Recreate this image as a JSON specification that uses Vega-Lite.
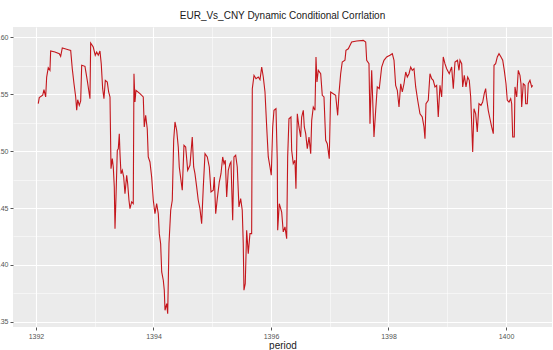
{
  "$schema": "https://vega.github.io/schema/vega-lite/v6.json",
  "width": 539,
  "height": 300,
  "autosize": {"type": "none"},
  "padding": {"left": 13, "top": 27, "right": 1, "bottom": 23},
  "background": "white",
  "title": {
    "text": "EUR_Vs_CNY Dynamic Conditional Corrlation",
    "fontSize": 10,
    "font": "Liberation Sans",
    "fontWeight": "normal",
    "color": "#1a1a1a",
    "anchor": "middle",
    "offset": 6
  },
  "config": {
    "view": {"fill": "#EBEBEB", "stroke": null},
    "axis": {"domain": false, "labelFont": "Liberation Sans", "titleFont": "Liberation Sans"}
  },
  "data": {"values": [
    {"period": 1392.039, "dcc": 0.5415}, {"period": 1392.056, "dcc": 0.5468}, {"period": 1392.114, "dcc": 0.5489},
    {"period": 1392.136, "dcc": 0.5538}, {"period": 1392.165, "dcc": 0.5474}, {"period": 1392.182, "dcc": 0.5649},
    {"period": 1392.209, "dcc": 0.5731}, {"period": 1392.238, "dcc": 0.5708}, {"period": 1392.25, "dcc": 0.5877},
    {"period": 1392.323, "dcc": 0.5868}, {"period": 1392.397, "dcc": 0.5854}, {"period": 1392.42, "dcc": 0.5831},
    {"period": 1392.448, "dcc": 0.5904}, {"period": 1392.494, "dcc": 0.5897}, {"period": 1392.55, "dcc": 0.5889},
    {"period": 1392.591, "dcc": 0.5883}, {"period": 1392.618, "dcc": 0.5722}, {"period": 1392.647, "dcc": 0.559},
    {"period": 1392.676, "dcc": 0.5474}, {"period": 1392.693, "dcc": 0.5357}, {"period": 1392.71, "dcc": 0.545},
    {"period": 1392.737, "dcc": 0.5401}, {"period": 1392.761, "dcc": 0.5439}, {"period": 1392.778, "dcc": 0.5752},
    {"period": 1392.834, "dcc": 0.5743}, {"period": 1392.873, "dcc": 0.562}, {"period": 1392.902, "dcc": 0.5518},
    {"period": 1392.919, "dcc": 0.5459}, {"period": 1392.931, "dcc": 0.5947}, {"period": 1392.975, "dcc": 0.5912},
    {"period": 1393.009, "dcc": 0.584}, {"period": 1393.033, "dcc": 0.5868}, {"period": 1393.06, "dcc": 0.584},
    {"period": 1393.089, "dcc": 0.5877}, {"period": 1393.111, "dcc": 0.5766}, {"period": 1393.135, "dcc": 0.5547},
    {"period": 1393.157, "dcc": 0.5459}, {"period": 1393.18, "dcc": 0.562}, {"period": 1393.214, "dcc": 0.5605},
    {"period": 1393.237, "dcc": 0.5518}, {"period": 1393.26, "dcc": 0.5474}, {"period": 1393.277, "dcc": 0.4845},
    {"period": 1393.299, "dcc": 0.4933}, {"period": 1393.316, "dcc": 0.486}, {"period": 1393.333, "dcc": 0.4685},
    {"period": 1393.345, "dcc": 0.4319}, {"period": 1393.362, "dcc": 0.4597}, {"period": 1393.384, "dcc": 0.5006},
    {"period": 1393.401, "dcc": 0.502}, {"period": 1393.418, "dcc": 0.5152}, {"period": 1393.43, "dcc": 0.4977},
    {"period": 1393.447, "dcc": 0.4801}, {"period": 1393.469, "dcc": 0.4831}, {"period": 1393.493, "dcc": 0.4772},
    {"period": 1393.515, "dcc": 0.4626}, {"period": 1393.544, "dcc": 0.4787}, {"period": 1393.561, "dcc": 0.4713},
    {"period": 1393.583, "dcc": 0.4568}, {"period": 1393.6, "dcc": 0.4494}, {"period": 1393.629, "dcc": 0.4553},
    {"period": 1393.656, "dcc": 0.4538}, {"period": 1393.668, "dcc": 0.5678}, {"period": 1393.685, "dcc": 0.543},
    {"period": 1393.702, "dcc": 0.5533}, {"period": 1393.77, "dcc": 0.5503}, {"period": 1393.826, "dcc": 0.5474},
    {"period": 1393.843, "dcc": 0.5211}, {"period": 1393.867, "dcc": 0.5313}, {"period": 1393.894, "dcc": 0.5196},
    {"period": 1393.911, "dcc": 0.4948}, {"period": 1393.94, "dcc": 0.4904}, {"period": 1393.969, "dcc": 0.4772},
    {"period": 1393.997, "dcc": 0.4568}, {"period": 1394.025, "dcc": 0.445}, {"period": 1394.054, "dcc": 0.4538},
    {"period": 1394.082, "dcc": 0.445}, {"period": 1394.099, "dcc": 0.4275}, {"period": 1394.122, "dcc": 0.4187},
    {"period": 1394.14, "dcc": 0.3939}, {"period": 1394.167, "dcc": 0.3866}, {"period": 1394.184, "dcc": 0.3779},
    {"period": 1394.196, "dcc": 0.3603}, {"period": 1394.225, "dcc": 0.3661}, {"period": 1394.242, "dcc": 0.3573},
    {"period": 1394.264, "dcc": 0.4187}, {"period": 1394.293, "dcc": 0.448}, {"period": 1394.32, "dcc": 0.4568},
    {"period": 1394.344, "dcc": 0.5094}, {"period": 1394.366, "dcc": 0.5255}, {"period": 1394.395, "dcc": 0.5182},
    {"period": 1394.422, "dcc": 0.5035}, {"period": 1394.439, "dcc": 0.486}, {"period": 1394.468, "dcc": 0.4743},
    {"period": 1394.49, "dcc": 0.4656}, {"period": 1394.519, "dcc": 0.505}, {"period": 1394.548, "dcc": 0.5035},
    {"period": 1394.582, "dcc": 0.4831}, {"period": 1394.621, "dcc": 0.4875}, {"period": 1394.66, "dcc": 0.5123},
    {"period": 1394.684, "dcc": 0.486}, {"period": 1394.706, "dcc": 0.4801}, {"period": 1394.735, "dcc": 0.4685},
    {"period": 1394.762, "dcc": 0.4568}, {"period": 1394.791, "dcc": 0.4494}, {"period": 1394.82, "dcc": 0.4363},
    {"period": 1394.848, "dcc": 0.4685}, {"period": 1394.877, "dcc": 0.4977}, {"period": 1394.916, "dcc": 0.4948},
    {"period": 1394.95, "dcc": 0.486}, {"period": 1394.979, "dcc": 0.4641}, {"period": 1395.018, "dcc": 0.4656},
    {"period": 1395.035, "dcc": 0.4772}, {"period": 1395.059, "dcc": 0.445}, {"period": 1395.086, "dcc": 0.4582},
    {"period": 1395.12, "dcc": 0.4728}, {"period": 1395.149, "dcc": 0.4801}, {"period": 1395.178, "dcc": 0.4948},
    {"period": 1395.2, "dcc": 0.4889}, {"period": 1395.222, "dcc": 0.4919}, {"period": 1395.246, "dcc": 0.4597},
    {"period": 1395.273, "dcc": 0.4831}, {"period": 1395.302, "dcc": 0.4889}, {"period": 1395.319, "dcc": 0.4904},
    {"period": 1395.348, "dcc": 0.4392}, {"period": 1395.37, "dcc": 0.4948}, {"period": 1395.399, "dcc": 0.4963},
    {"period": 1395.426, "dcc": 0.486}, {"period": 1395.455, "dcc": 0.4509}, {"period": 1395.484, "dcc": 0.4582},
    {"period": 1395.511, "dcc": 0.448}, {"period": 1395.528, "dcc": 0.4187}, {"period": 1395.54, "dcc": 0.3779},
    {"period": 1395.562, "dcc": 0.3836}, {"period": 1395.586, "dcc": 0.4305}, {"period": 1395.613, "dcc": 0.41},
    {"period": 1395.642, "dcc": 0.4275}, {"period": 1395.671, "dcc": 0.4275}, {"period": 1395.682, "dcc": 0.5547},
    {"period": 1395.711, "dcc": 0.5664}, {"period": 1395.745, "dcc": 0.5634}, {"period": 1395.784, "dcc": 0.5649},
    {"period": 1395.813, "dcc": 0.5626}, {"period": 1395.842, "dcc": 0.5737}, {"period": 1395.869, "dcc": 0.5649},
    {"period": 1395.898, "dcc": 0.5518}, {"period": 1395.927, "dcc": 0.5211}, {"period": 1395.954, "dcc": 0.4948},
    {"period": 1395.983, "dcc": 0.486}, {"period": 1396.005, "dcc": 0.4787}, {"period": 1396.029, "dcc": 0.5211},
    {"period": 1396.051, "dcc": 0.5357}, {"period": 1396.085, "dcc": 0.5371}, {"period": 1396.107, "dcc": 0.4919},
    {"period": 1396.114, "dcc": 0.4305}, {"period": 1396.141, "dcc": 0.4538}, {"period": 1396.182, "dcc": 0.4465},
    {"period": 1396.209, "dcc": 0.429}, {"period": 1396.238, "dcc": 0.4334}, {"period": 1396.267, "dcc": 0.4231},
    {"period": 1396.284, "dcc": 0.4948}, {"period": 1396.306, "dcc": 0.5283}, {"period": 1396.34, "dcc": 0.5298},
    {"period": 1396.352, "dcc": 0.5006}, {"period": 1396.379, "dcc": 0.4889}, {"period": 1396.408, "dcc": 0.4919},
    {"period": 1396.425, "dcc": 0.467}, {"period": 1396.448, "dcc": 0.5327}, {"period": 1396.476, "dcc": 0.5211},
    {"period": 1396.505, "dcc": 0.5123}, {"period": 1396.522, "dcc": 0.5298}, {"period": 1396.55, "dcc": 0.5357},
    {"period": 1396.567, "dcc": 0.5211}, {"period": 1396.591, "dcc": 0.5152}, {"period": 1396.618, "dcc": 0.502},
    {"period": 1396.647, "dcc": 0.5123}, {"period": 1396.676, "dcc": 0.4977}, {"period": 1396.693, "dcc": 0.5269},
    {"period": 1396.72, "dcc": 0.5386}, {"period": 1396.749, "dcc": 0.5357}, {"period": 1396.766, "dcc": 0.5825},
    {"period": 1396.783, "dcc": 0.5605}, {"period": 1396.805, "dcc": 0.5708}, {"period": 1396.846, "dcc": 0.5678},
    {"period": 1396.873, "dcc": 0.5489}, {"period": 1396.902, "dcc": 0.5474}, {"period": 1396.931, "dcc": 0.5094},
    {"period": 1396.958, "dcc": 0.5064}, {"period": 1396.992, "dcc": 0.4933}, {"period": 1397.016, "dcc": 0.5518},
    {"period": 1397.06, "dcc": 0.5503}, {"period": 1397.101, "dcc": 0.5489}, {"period": 1397.135, "dcc": 0.5313},
    {"period": 1397.157, "dcc": 0.5503}, {"period": 1397.186, "dcc": 0.5678}, {"period": 1397.213, "dcc": 0.5781},
    {"period": 1397.259, "dcc": 0.5796}, {"period": 1397.276, "dcc": 0.5883}, {"period": 1397.316, "dcc": 0.5897},
    {"period": 1397.373, "dcc": 0.5956}, {"period": 1397.459, "dcc": 0.5965}, {"period": 1397.571, "dcc": 0.5971},
    {"period": 1397.612, "dcc": 0.5956}, {"period": 1397.629, "dcc": 0.5796}, {"period": 1397.668, "dcc": 0.5766},
    {"period": 1397.685, "dcc": 0.524}, {"period": 1397.714, "dcc": 0.5708}, {"period": 1397.753, "dcc": 0.5123},
    {"period": 1397.782, "dcc": 0.5357}, {"period": 1397.809, "dcc": 0.5562}, {"period": 1397.843, "dcc": 0.5547},
    {"period": 1397.884, "dcc": 0.5737}, {"period": 1397.923, "dcc": 0.5796}, {"period": 1397.969, "dcc": 0.5825},
    {"period": 1398.025, "dcc": 0.584}, {"period": 1398.065, "dcc": 0.5854}, {"period": 1398.094, "dcc": 0.5796},
    {"period": 1398.122, "dcc": 0.5576}, {"period": 1398.15, "dcc": 0.5533}, {"period": 1398.179, "dcc": 0.5386},
    {"period": 1398.208, "dcc": 0.559}, {"period": 1398.235, "dcc": 0.5518}, {"period": 1398.264, "dcc": 0.559},
    {"period": 1398.293, "dcc": 0.5693}, {"period": 1398.32, "dcc": 0.5649}, {"period": 1398.349, "dcc": 0.5678},
    {"period": 1398.378, "dcc": 0.5737}, {"period": 1398.405, "dcc": 0.5708}, {"period": 1398.434, "dcc": 0.5722},
    {"period": 1398.463, "dcc": 0.5562}, {"period": 1398.497, "dcc": 0.5445}, {"period": 1398.536, "dcc": 0.5327},
    {"period": 1398.575, "dcc": 0.5298}, {"period": 1398.604, "dcc": 0.5211}, {"period": 1398.621, "dcc": 0.5108},
    {"period": 1398.638, "dcc": 0.5415}, {"period": 1398.677, "dcc": 0.5445}, {"period": 1398.706, "dcc": 0.5678},
    {"period": 1398.735, "dcc": 0.5634}, {"period": 1398.762, "dcc": 0.562}, {"period": 1398.791, "dcc": 0.5562},
    {"period": 1398.82, "dcc": 0.5576}, {"period": 1398.847, "dcc": 0.5298}, {"period": 1398.876, "dcc": 0.5576},
    {"period": 1398.905, "dcc": 0.5474}, {"period": 1398.932, "dcc": 0.5825}, {"period": 1398.961, "dcc": 0.5766},
    {"period": 1398.99, "dcc": 0.5722}, {"period": 1399.034, "dcc": 0.5678}, {"period": 1399.075, "dcc": 0.5737},
    {"period": 1399.103, "dcc": 0.5547}, {"period": 1399.132, "dcc": 0.5781}, {"period": 1399.174, "dcc": 0.5796},
    {"period": 1399.2, "dcc": 0.5708}, {"period": 1399.217, "dcc": 0.5796}, {"period": 1399.246, "dcc": 0.5766},
    {"period": 1399.263, "dcc": 0.5562}, {"period": 1399.29, "dcc": 0.5664}, {"period": 1399.319, "dcc": 0.5562},
    {"period": 1399.348, "dcc": 0.5649}, {"period": 1399.375, "dcc": 0.562}, {"period": 1399.399, "dcc": 0.5474},
    {"period": 1399.416, "dcc": 0.524}, {"period": 1399.433, "dcc": 0.4991}, {"period": 1399.455, "dcc": 0.5371},
    {"period": 1399.484, "dcc": 0.5327}, {"period": 1399.511, "dcc": 0.5167}, {"period": 1399.54, "dcc": 0.5415},
    {"period": 1399.574, "dcc": 0.5401}, {"period": 1399.603, "dcc": 0.543}, {"period": 1399.63, "dcc": 0.5503},
    {"period": 1399.654, "dcc": 0.5547}, {"period": 1399.671, "dcc": 0.5459}, {"period": 1399.698, "dcc": 0.5357},
    {"period": 1399.727, "dcc": 0.5283}, {"period": 1399.756, "dcc": 0.5211}, {"period": 1399.784, "dcc": 0.5152},
    {"period": 1399.796, "dcc": 0.5752}, {"period": 1399.824, "dcc": 0.5766}, {"period": 1399.852, "dcc": 0.5825},
    {"period": 1399.881, "dcc": 0.5854}, {"period": 1399.915, "dcc": 0.5825}, {"period": 1399.944, "dcc": 0.5796},
    {"period": 1399.971, "dcc": 0.5708}, {"period": 1400.0, "dcc": 0.559}, {"period": 1400.022, "dcc": 0.5445},
    {"period": 1400.051, "dcc": 0.543}, {"period": 1400.08, "dcc": 0.5459}, {"period": 1400.097, "dcc": 0.5415},
    {"period": 1400.114, "dcc": 0.5123}, {"period": 1400.141, "dcc": 0.5123}, {"period": 1400.153, "dcc": 0.5562},
    {"period": 1400.182, "dcc": 0.5474}, {"period": 1400.209, "dcc": 0.5708}, {"period": 1400.238, "dcc": 0.5664},
    {"period": 1400.255, "dcc": 0.559}, {"period": 1400.267, "dcc": 0.5386}, {"period": 1400.294, "dcc": 0.559},
    {"period": 1400.323, "dcc": 0.5576}, {"period": 1400.335, "dcc": 0.5415}, {"period": 1400.362, "dcc": 0.5415},
    {"period": 1400.379, "dcc": 0.559}, {"period": 1400.408, "dcc": 0.562}, {"period": 1400.437, "dcc": 0.5562},
    {"period": 1400.454, "dcc": 0.5576}
  ]},
  "mark": {"type": "line", "color": "#c4161c", "strokeWidth": 1.1, "interpolate": "linear"},
  "encoding": {
    "x": {
      "field": "period",
      "type": "quantitative",
      "scale": {"domain": [1391.609, 1400.783], "nice": false, "zero": false},
      "axis": {
        "values": [1392, 1393, 1394, 1395, 1396, 1397, 1398, 1399, 1400],
        "labelExpr": "datum.value % 2 == 0 ? format(datum.value, 'd') : ''",
        "grid": true,
        "gridColor": "white",
        "gridWidth": {"condition": {"test": "datum.value % 2 == 0", "value": 1.1}, "value": 0.5},
        "tickColor": "#555555",
        "tickSize": 3,
        "tickOpacity": {"condition": {"test": "datum.value % 2 == 0", "value": 1}, "value": 0},
        "labelFontSize": 7,
        "labelColor": "#555555",
        "labelPadding": 2,
        "title": "period",
        "titleFontSize": 10,
        "titleFontWeight": "normal",
        "titleColor": "#1a1a1a",
        "titlePadding": 1
      }
    },
    "y": {
      "field": "dcc",
      "type": "quantitative",
      "scale": {"domain": [0.3456, 0.6088], "nice": false, "zero": false},
      "axis": {
        "values": [0.35, 0.375, 0.4, 0.425, 0.45, 0.475, 0.5, 0.525, 0.55, 0.575, 0.6],
        "labelExpr": "round(datum.value * 1000) % 50 == 0 ? format(datum.value, '.2f') : ''",
        "grid": true,
        "gridColor": "white",
        "gridWidth": {"condition": {"test": "round(datum.value * 1000) % 50 == 0", "value": 1.1}, "value": 0.5},
        "tickColor": "#555555",
        "tickSize": 3,
        "tickOpacity": {"condition": {"test": "round(datum.value * 1000) % 50 == 0", "value": 1}, "value": 0},
        "labelFontSize": 7,
        "labelColor": "#555555",
        "labelPadding": 2,
        "title": null
      }
    }
  }
}
